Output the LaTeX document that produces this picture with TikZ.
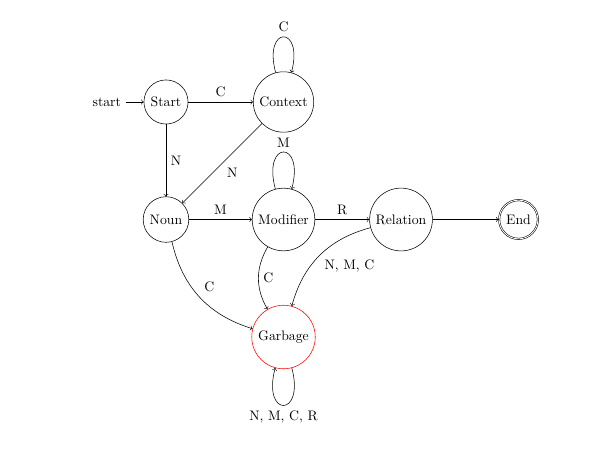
\documentclass[tikz,border=0pt]{standalone}
\usetikzlibrary{automata}

\begin{document}
\begin{tikzpicture}[->, auto]

\tikzstyle st=[state]
\tikzstyle bad=[state, draw=red]

\useasboundingbox (-4.238,-9.037) rectangle (11.08,2.604);

\node (s) [st, initial] at (0,0) {Start};
\node (c) [st] at (3,0) {Context};

\node (n) [st] at (0,-3) {Noun};
\node (m) [st] at (3,-3) {Modifier};
\node (r) [st] at (6,-3) {Relation};
\node (e) [st, accepting] at (9,-3) {End};

\node (g) [bad] at (3,-6) {Garbage};

\draw (s) -- node {C} (c);
\draw (s) -- node {N} (n);
\draw (c) -- node {N} (n);
\draw (c) to [loop above] node {C} (c);

\draw (n) -- node {M} (m);
\draw (m) -- node {R} (r);
\draw (r) -- (e);
\draw (m) to [loop above] node {M} (m);

\draw (n) to [bend right] node {C} (g);
\draw (m) to [bend right] node {C} (g);
\draw (r) to [bend right] node {N, M, C} (g);
\draw (g) to [out=-75, in=-105, loop] node [below] {N, M, C, R} (g);

\end{tikzpicture}
\end{document}
